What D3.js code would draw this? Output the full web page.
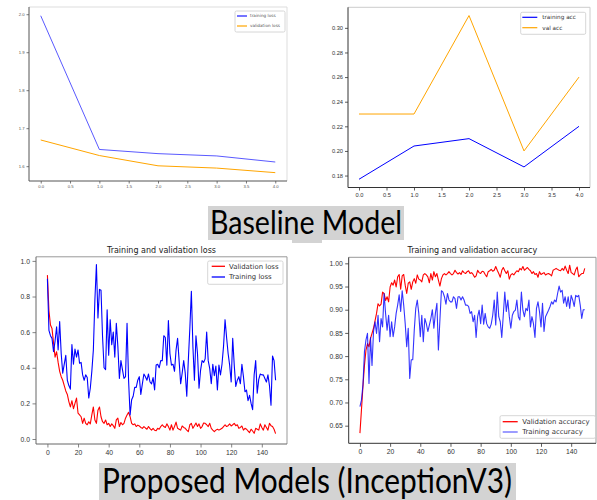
<!DOCTYPE html>
<html>
<head>
<meta charset="utf-8">
<script src="https://cdn.jsdelivr.net/npm/d3@7"></script>
<style>
  body { margin: 0; background: #fff; }
  svg { display: block; }
</style>
</head>
<body>
<script>
// ---- data ----
const baseEpochs = [0, 1, 2, 3, 4];
const baseTrainLoss = [1.996, 1.644, 1.633, 1.627, 1.611];
const baseValLoss = [1.669, 1.628, 1.601, 1.595, 1.583];
const baseTrainAcc = [0.177, 0.204, 0.210, 0.187, 0.220];
const baseValAcc = [0.23, 0.23, 0.31, 0.20, 0.26];

const incTrainLoss = [
  0.90, 0.61, 0.58, 0.565, 0.49, 0.55, 0.63, 0.50, 0.66, 0.48,
  0.37, 0.42, 0.47, 0.33, 0.30, 0.28, 0.53, 0.42, 0.505, 0.46,
  0.50, 0.425, 0.43, 0.36, 0.33, 0.36, 0.345, 0.23, 0.285, 0.38,
  0.50, 0.78, 0.98, 0.68, 0.84, 0.835, 0.575, 0.40, 0.39, 0.725,
  0.47, 0.67, 0.53, 0.60, 0.46, 0.65, 0.52, 0.34, 0.44, 0.39,
  0.34, 0.35, 0.65, 0.33, 0.135, 0.22, 0.24, 0.29, 0.29, 0.33,
  0.35, 0.25, 0.31, 0.365, 0.35, 0.33, 0.365, 0.32, 0.31, 0.345,
  0.275, 0.415, 0.42, 0.40, 0.44, 0.44, 0.58, 0.57, 0.415, 0.665,
  0.48, 0.415, 0.42, 0.38, 0.50, 0.565, 0.44, 0.31, 0.37, 0.44,
  0.37, 0.24, 0.44, 0.62, 0.83, 0.52, 0.33, 0.58, 0.48, 0.285,
  0.385, 0.44, 0.43, 0.45, 0.60, 0.44, 0.395, 0.31, 0.42, 0.355,
  0.41, 0.275, 0.415, 0.36, 0.42, 0.52, 0.67, 0.57, 0.48, 0.415,
  0.32, 0.565, 0.415, 0.295, 0.33, 0.35, 0.31, 0.42, 0.35, 0.265,
  0.275, 0.215, 0.245, 0.20, 0.165, 0.36, 0.44, 0.257, 0.335, 0.365,
  0.36, 0.36, 0.34, 0.32, 0.36, 0.30, 0.19, 0.466, 0.44, 0.33
];
const incValLoss = [
  0.92, 0.72, 0.64, 0.62, 0.54, 0.46, 0.49, 0.43, 0.38, 0.35,
  0.33, 0.30, 0.27, 0.25, 0.21, 0.18, 0.215, 0.17, 0.20, 0.23,
  0.145, 0.135, 0.125, 0.088, 0.117, 0.088, 0.08, 0.097, 0.085, 0.135,
  0.18, 0.107, 0.088, 0.162, 0.18, 0.125, 0.097, 0.088, 0.107, 0.08,
  0.088, 0.07, 0.085, 0.075, 0.06, 0.107, 0.117, 0.07, 0.093, 0.08,
  0.088, 0.117, 0.135, 0.15, 0.125, 0.088, 0.08, 0.085, 0.07, 0.078,
  0.073, 0.065, 0.06, 0.07, 0.062, 0.055, 0.07, 0.058, 0.05, 0.06,
  0.049, 0.047, 0.06, 0.055, 0.07, 0.08, 0.07, 0.065, 0.085, 0.07,
  0.05, 0.08, 0.05, 0.07, 0.095, 0.06, 0.055, 0.05, 0.073, 0.065,
  0.06, 0.05, 0.041, 0.08, 0.088, 0.06, 0.075, 0.09, 0.07, 0.085,
  0.06, 0.07, 0.09, 0.088, 0.08, 0.07, 0.088, 0.06, 0.05, 0.041,
  0.05, 0.055, 0.05, 0.055, 0.06, 0.07, 0.08, 0.07, 0.075, 0.085,
  0.073, 0.08, 0.088, 0.075, 0.08, 0.06, 0.065, 0.073, 0.05, 0.06,
  0.055, 0.045, 0.036, 0.055, 0.045, 0.032, 0.06, 0.055, 0.05, 0.085,
  0.065, 0.05, 0.08, 0.065, 0.05, 0.088, 0.075, 0.07, 0.055, 0.03
];
const incValAcc = [
  0.634, 0.684, 0.735, 0.78, 0.813, 0.827, 0.82, 0.838, 0.849, 0.86,
  0.876, 0.892, 0.913, 0.908, 0.912, 0.938, 0.935, 0.92, 0.928, 0.917,
  0.949, 0.958, 0.953, 0.964, 0.949, 0.971, 0.976, 0.944, 0.973, 0.976,
  0.953, 0.935, 0.957, 0.96, 0.944, 0.96, 0.967, 0.957, 0.975, 0.966,
  0.964, 0.96, 0.975, 0.978, 0.975, 0.971, 0.958, 0.978, 0.964, 0.982,
  0.971, 0.978, 0.964, 0.951, 0.967, 0.975, 0.978, 0.975, 0.978, 0.982,
  0.978, 0.975, 0.978, 0.985, 0.98, 0.977, 0.98, 0.976, 0.984, 0.98,
  0.978, 0.982, 0.984, 0.978, 0.98, 0.976, 0.97, 0.973, 0.985, 0.98,
  0.978, 0.983, 0.982, 0.976, 0.971, 0.982, 0.984, 0.987, 0.983, 0.985,
  0.993, 0.985, 0.978, 0.97, 0.985, 0.991, 0.984, 0.978, 0.984, 0.966,
  0.975, 0.978, 0.975, 0.98, 0.984, 0.982, 0.989, 0.986, 0.993, 0.985,
  0.988, 0.991, 0.987, 0.984, 0.978, 0.982, 0.976, 0.978, 0.97, 0.982,
  0.976, 0.978, 0.98, 0.975, 0.977, 0.978, 0.976, 0.973, 0.985, 0.987,
  0.989, 0.987, 0.985, 0.984, 0.989, 0.985, 0.994, 0.985, 0.978, 0.996,
  0.98, 0.978, 0.975, 0.986, 0.992, 0.971, 0.975, 0.978, 0.978, 0.989
];
const incTrainAcc = [
  0.691, 0.705, 0.738, 0.81, 0.835, 0.849, 0.741, 0.84, 0.78, 0.853,
  0.874, 0.849, 0.888, 0.831, 0.881, 0.863, 0.935, 0.892, 0.856, 0.888,
  0.842, 0.874, 0.842, 0.863, 0.892, 0.91, 0.932, 0.896, 0.941, 0.91,
  0.87, 0.82, 0.86, 0.752, 0.792, 0.792, 0.856, 0.903, 0.921, 0.892,
  0.842, 0.888, 0.831, 0.881, 0.87, 0.853, 0.867, 0.881, 0.9, 0.86,
  0.892, 0.914, 0.813, 0.878, 0.941, 0.938, 0.928, 0.912, 0.935, 0.921,
  0.917, 0.917, 0.928, 0.924, 0.903, 0.928, 0.928, 0.921, 0.928, 0.921,
  0.91, 0.91, 0.907, 0.892, 0.896, 0.874, 0.888, 0.84, 0.885, 0.899,
  0.87, 0.91, 0.869, 0.892, 0.87, 0.863, 0.86, 0.869, 0.888, 0.921,
  0.867, 0.938, 0.885, 0.874, 0.84, 0.888, 0.938, 0.896, 0.921, 0.885,
  0.86, 0.888, 0.896, 0.899, 0.921, 0.885, 0.878, 0.938, 0.899, 0.885,
  0.903, 0.898, 0.921, 0.863, 0.885, 0.87, 0.84, 0.903, 0.917, 0.896,
  0.863, 0.914, 0.853, 0.885, 0.892, 0.899, 0.907, 0.917, 0.912, 0.921,
  0.917, 0.935, 0.951, 0.938, 0.942, 0.914, 0.928, 0.907, 0.928, 0.903,
  0.931, 0.921, 0.907, 0.931, 0.928, 0.931, 0.91, 0.881, 0.9, 0.9
];

const baseXTicks = [0, 0.5, 1, 1.5, 2, 2.5, 3, 3.5, 4];
const incXTicks = [0, 20, 40, 60, 80, 100, 120, 140];

const svg = d3.select("body").append("svg")
  .attr("width", 597)
  .attr("height", 500);

svg.append("rect").attr("width", 597).attr("height", 500).attr("fill", "#fff");

// draws one matplotlib-like panel
function drawPanel(c) {
  const g = svg.append("g").style("font-family", "DejaVu Sans, sans-serif");
  const x = d3.scaleLinear().domain(c.xDomain).range([c.left, c.right]);
  const y = d3.scaleLinear().domain(c.yDomain).range([c.bottom, c.top]);

  // top / right spines (lighter)
  g.append("path")
    .attr("d", `M${c.left},${c.top}H${c.right}V${c.bottom}`)
    .attr("fill", "none").attr("stroke", c.lightSpine).attr("stroke-width", 1);

  // lines
  c.series.forEach(s => {
    const line = d3.line().x((d, i) => x(c.xs ? c.xs[i] : i)).y(d => y(d));
    g.append("path")
      .datum(s.values)
      .attr("d", line)
      .attr("fill", "none")
      .attr("stroke", s.color)
      .attr("stroke-opacity", s.opacity || 1)
      .attr("stroke-width", c.lineWidth)
      .attr("stroke-linejoin", "round");
  });

  // axes
  const xAxis = d3.axisBottom(x).tickValues(c.xTicks).tickFormat(c.xFmt)
    .tickSize(c.tickSize).tickPadding(c.tickPad);
  const yAxis = d3.axisLeft(y).tickValues(c.yTicks).tickFormat(c.yFmt)
    .tickSize(c.tickSize).tickPadding(c.tickPad);

  const gx = g.append("g").attr("transform", `translate(0,${c.bottom})`).call(xAxis);
  const gy = g.append("g").attr("transform", `translate(${c.left},0)`).call(yAxis);
  [gx, gy].forEach(a => {
    a.select(".domain").remove();
    a.selectAll("line").attr("stroke", c.darkSpine).attr("stroke-width", 0.8);
    a.selectAll("text").attr("fill", c.textColor).style("font-size", c.tickFont + "px");
  });

  // left / bottom spines (darker)
  g.append("path")
    .attr("d", `M${c.left},${c.top}V${c.bottom}H${c.right}`)
    .attr("fill", "none").attr("stroke", c.darkSpine).attr("stroke-width", 1);

  if (c.title) {
    g.append("text")
      .attr("x", (c.left + c.right) / 2)
      .attr("y", c.top - 4)
      .attr("text-anchor", "middle")
      .attr("fill", "#222")
      .style("font-size", c.titleFont + "px")
      .text(c.title);
  }

  // legend
  const L = c.legend;
  g.append("rect")
    .attr("x", L.x).attr("y", L.y).attr("width", L.w).attr("height", L.h)
    .attr("rx", 1.5).attr("fill", "#fff").attr("fill-opacity", 0.85)
    .attr("stroke", "#ccc").attr("stroke-width", 0.8);
  L.items.forEach((it, i) => {
    const yy = L.y + L.row0 + i * L.rowH;
    g.append("line")
      .attr("x1", L.x + L.lx0).attr("x2", L.x + L.lx1)
      .attr("y1", yy).attr("y2", yy)
      .attr("stroke", it.color).attr("stroke-opacity", it.opacity || 1)
      .attr("stroke-width", c.lineWidth + 0.2);
    g.append("text")
      .attr("x", L.x + L.tx).attr("y", yy).attr("dy", "0.35em")
      .attr("fill", c.textColor)
      .style("font-size", L.font + "px")
      .text(it.label);
  });
}

// Baseline: loss
drawPanel({
  left: 29, right: 287, top: 7, bottom: 181,
  xDomain: [-0.2, 4.2], yDomain: [1.561, 2.019], xs: baseEpochs,
  xTicks: baseXTicks, yTicks: [1.6, 1.7, 1.8, 1.9, 2.0],
  xFmt: d3.format(".1f"), yFmt: d3.format(".1f"),
  tickSize: 2.5, tickPad: 2, tickFont: 4.2, textColor: "#555",
  lightSpine: "#ddd", darkSpine: "#555", lineWidth: 1,
  series: [
    { values: baseTrainLoss, color: "blue", opacity: 0.65 },
    { values: baseValLoss, color: "orange" }
  ],
  legend: {
    x: 235, y: 11, w: 50, h: 21, row0: 5, rowH: 10, lx0: 2, lx1: 12, tx: 15, font: 4.2,
    items: [
      { label: "training loss", color: "blue", opacity: 0.9 },
      { label: "validation loss", color: "orange" }
    ]
  }
});

// Baseline: accuracy
drawPanel({
  left: 348, right: 590, top: 7.3, bottom: 187.5,
  xDomain: [-0.2, 4.2], yDomain: [0.1703, 0.3167], xs: baseEpochs,
  xTicks: baseXTicks, yTicks: [0.18, 0.20, 0.22, 0.24, 0.26, 0.28, 0.30],
  xFmt: d3.format(".1f"), yFmt: d3.format(".2f"),
  tickSize: 3, tickPad: 2, tickFont: 5.7, textColor: "#333",
  lightSpine: "#ccc", darkSpine: "#333", lineWidth: 1,
  series: [
    { values: baseTrainAcc, color: "blue" },
    { values: baseValAcc, color: "orange" }
  ],
  legend: {
    x: 520.7, y: 12.3, w: 65, h: 22, row0: 5, rowH: 10.4, lx0: 1.6, lx1: 16.6, tx: 21.6, font: 5.7,
    items: [
      { label: "training acc", color: "blue" },
      { label: "val acc", color: "orange" }
    ]
  }
});

// InceptionV3: loss
drawPanel({
  left: 36, right: 287, top: 256.8, bottom: 444,
  xDomain: [-7.45, 156.45], yDomain: [-0.028, 1.023],
  xTicks: incXTicks, yTicks: [0, 0.2, 0.4, 0.6, 0.8, 1.0],
  xFmt: d3.format("d"), yFmt: d3.format(".1f"),
  tickSize: 3.5, tickPad: 2.5, tickFont: 6.8, textColor: "#333",
  lightSpine: "#999", darkSpine: "#666", lineWidth: 1.1,
  title: "Training and validation loss", titleFont: 8,
  series: [
    { values: incValLoss, color: "red" },
    { values: incTrainLoss, color: "blue" }
  ],
  legend: {
    x: 207.7, y: 261, w: 75.3, h: 23.3, row0: 5.3, rowH: 10.7, lx0: 4, lx1: 17.3, tx: 21.3, font: 6.9,
    items: [
      { label: "Validation loss", color: "red" },
      { label: "Training loss", color: "blue" }
    ]
  }
});

// InceptionV3: accuracy
drawPanel({
  left: 348.7, right: 596, top: 257.3, bottom: 443.3,
  xDomain: [-7.45, 156.45], yDomain: [0.612, 1.013],
  xTicks: incXTicks, yTicks: [0.65, 0.70, 0.75, 0.80, 0.85, 0.90, 0.95, 1.00],
  xFmt: d3.format("d"), yFmt: d3.format(".2f"),
  tickSize: 3.5, tickPad: 2.5, tickFont: 6.8, textColor: "#333",
  lightSpine: "#999", darkSpine: "#333", lineWidth: 1.1,
  title: "Training and validation accuracy", titleFont: 8,
  series: [
    { values: incValAcc, color: "red" },
    { values: incTrainAcc, color: "blue", opacity: 0.8 }
  ],
  legend: {
    x: 500, y: 415.7, w: 95.5, h: 22.6, row0: 6, rowH: 10.3, lx0: 2.7, lx1: 17.7, tx: 22.3, font: 6.9,
    items: [
      { label: "Validation accuracy", color: "red" },
      { label: "Training accuracy", color: "blue", opacity: 0.6 }
    ]
  }
});

// slide captions
svg.append("rect").attr("x", 208).attr("y", 206).attr("width", 196).attr("height", 34).attr("fill", "#d3d3d3");
svg.append("rect").attr("x", 292).attr("y", 240).attr("width", 30).attr("height", 3).attr("fill", "#d3d3d3");
svg.append("text")
  .attr("x", 210).attr("y", 234)
  .attr("textLength", 192).attr("lengthAdjust", "spacingAndGlyphs")
  .style("font-family", "Lato, sans-serif").style("font-size", "33px")
  .attr("fill", "#000")
  .text("Baseline Model");

svg.append("rect").attr("x", 99).attr("y", 463).attr("width", 417).attr("height", 37).attr("fill", "#d3d3d3");
svg.append("text")
  .attr("x", 102).attr("y", 493)
  .attr("textLength", 410).attr("lengthAdjust", "spacingAndGlyphs")
  .style("font-family", "Lato, sans-serif").style("font-size", "35px")
  .attr("fill", "#000")
  .text("Proposed Models (InceptionV3)");
</script>
</body>
</html>
